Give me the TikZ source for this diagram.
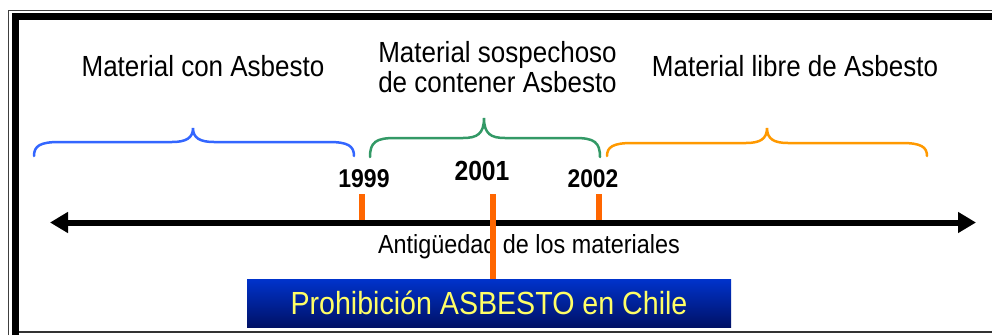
\documentclass[tikz,border=0pt]{standalone}
\usepackage{fontspec}
\setmainfont{Liberation Sans}
\usetikzlibrary{arrows.meta}
\definecolor{bblue}{RGB}{51,102,255}
\definecolor{bgreen}{RGB}{51,153,102}
\definecolor{borange}{RGB}{255,153,0}
\definecolor{tickorange}{RGB}{255,102,0}
\definecolor{boxtop}{RGB}{0,51,204}
\definecolor{boxbot}{RGB}{0,17,102}
\definecolor{boxtext}{RGB}{255,255,102}
\newcommand\vst[1]{\scalebox{1}[1.12]{#1}}
\newcommand\tlbrace[7]{%
  \draw[#1, line width=2.5bp, line cap=round]
    (#2,#7) .. controls (#2,#5+4) and (#2+6,#5) .. ({#2+25},#5)
    -- ({#3-21},#5) .. controls ({#3-7},#5) and (#3,{#5-4}) .. (#3,#6)
    .. controls (#3,{#5-4}) and ({#3+7},#5) .. ({#3+21},#5)
    -- ({#4-25},#5) .. controls ({#4-6},#5) and (#4,#5+4) .. (#4,#7);}
\tikzset{
  lbl/.style={inner sep=0pt, font=\fontsize{26bp}{30bp}\selectfont},
  yr/.style={inner sep=0pt, anchor=base},
  tickline/.style={tickorange, line width=5.5bp},
  axisline/.style={line width=6bp, {Triangle[length=18bp,width=20bp]}-{Triangle[length=18bp,width=20bp]}},
  banner/.style={inner sep=0pt, minimum width=484bp, minimum height=48bp,
    top color=boxtop, bottom color=boxbot, text=boxtext,
    font=\fontsize{28.6bp}{32bp}\selectfont}
}
\begin{document}
\begin{tikzpicture}[x=1bp,y=-1bp]
\useasboundingbox (0,0) rectangle (992,335);
% frame
\draw[line width=1bp, black!75] (8.5,335) -- (8.5,10.5) -- (992,10.5);
\draw[line width=7bp] (15.5,335) -- (15.5,16.5) -- (992,16.5);
\draw[line width=2bp, black!80] (19,332) -- (992,332);
% labels
\node[lbl, anchor=base] (mca) at (203,76) {\vst{Material con Asbesto}};
\node[lbl, anchor=base] (msa) at (497.5,62) {\vst{Material sospechoso}};
\node[lbl, anchor=base] (msb) at (497.5,92) {\vst{de contener Asbesto}};
\node[lbl, anchor=base] (mla) at (795,76) {\vst{Material libre de Asbesto}};
% braces
\tlbrace{bblue}{34}{193}{354}{142}{128}{156}
\tlbrace{bgreen}{370}{484}{600}{138}{118}{157}
\tlbrace{borange}{607}{767}{927}{143}{128}{156}
% years
\node[yr, font=\bfseries\fontsize{23bp}{26bp}\selectfont] (y99) at (364,187) {\vst{1999}};
\node[yr, font=\bfseries\fontsize{24.7bp}{28bp}\selectfont] (y01) at (482,180) {\vst{2001}};
\node[yr, font=\bfseries\fontsize{22.8bp}{26bp}\selectfont] (y02) at (593,187) {\vst{2002}};
% axis
\coordinate (L) at (50,222.5);
\coordinate (R) at (976,222.5);
\coordinate (k99) at (362,194);
\coordinate (k02) at (599,194);
\coordinate (k01) at (493,194);
\draw[tickline] (k99) -- (k99 |- L);
\draw[tickline] (k02) -- (k02 |- L);
\draw[axisline] (L) -- (R);
\node[lbl, anchor=base, font=\fontsize{23.4bp}{27bp}\selectfont] (ant) at (529,253) {\vst{Antigüedad de los materiales}};
% banner
\node[banner] (ban) at (489,303) {\vst{Prohibición ASBESTO en Chile}};
\draw[tickline] (k01) -- (k01 |- ban.north);
\end{tikzpicture}
\end{document}
